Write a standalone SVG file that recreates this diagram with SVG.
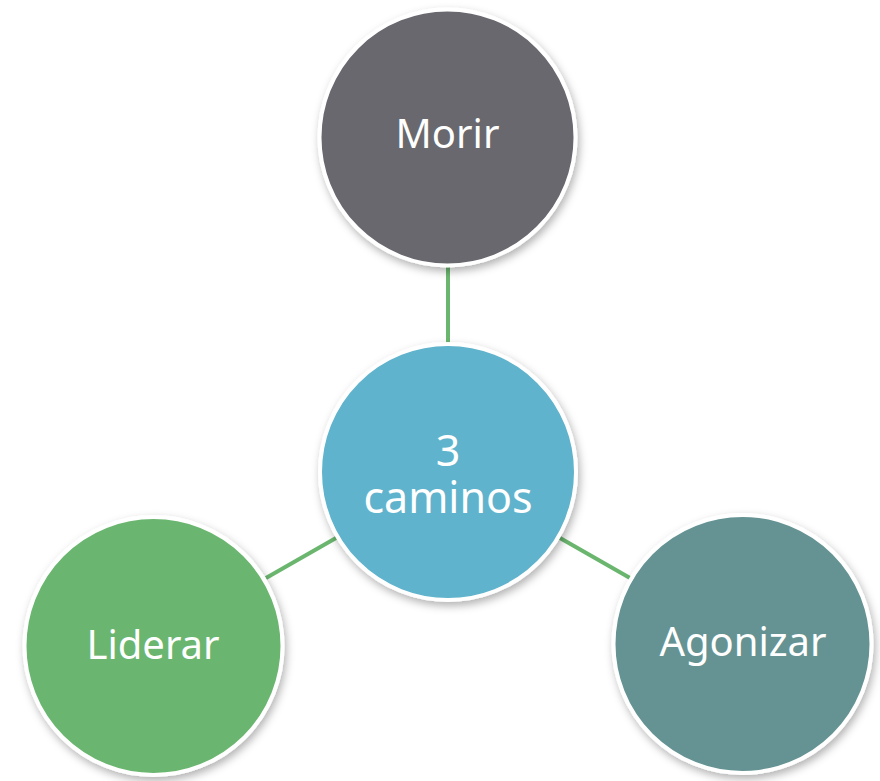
<svg xmlns="http://www.w3.org/2000/svg" width="880" height="781" viewBox="0 0 880 781">
<defs>
<filter id="sh" x="-20%" y="-20%" width="140%" height="140%">
<feDropShadow dx="2" dy="4" stdDeviation="4" flood-color="#000" flood-opacity="0.3"/>
</filter>
</defs>
<style>
.n{stroke:#fff;stroke-width:4;filter:url(#sh)}
.t{font-family:"Noto Sans","Open Sans",sans-serif;font-size:40px;fill:#fff;text-anchor:middle}
.b{font-size:43px}
.c{stroke:#6BB66F;stroke-width:4;fill:none}
</style>
<rect width="880" height="781" fill="#fff"/>
<g id="connectors">
<line class="c" x1="448" y1="266" x2="448" y2="343"/>
<line class="c" x1="336" y1="538" x2="266" y2="578"/>
<line class="c" x1="560" y1="538" x2="630" y2="578"/>
</g>
<g id="morir">
<circle class="n" cx="447.5" cy="137.5" r="128" fill="#68676E"/>
<text class="t" x="447.5" y="148">Morir</text>
</g>
<g id="caminos">
<circle class="n" cx="448" cy="472" r="128" fill="#5FB3CC"/>
<text class="t b" x="448" y="466">3</text>
<text class="t b" x="448" y="513">caminos</text>
</g>
<g id="liderar">
<circle class="n" cx="153.5" cy="646" r="129" fill="#6BB66F"/>
<text class="t" x="153" y="659">Liderar</text>
</g>
<g id="agonizar">
<circle class="n" cx="742.5" cy="644" r="129" fill="#659393"/>
<text class="t" x="743" y="656">Agonizar</text>
</g>
</svg>
